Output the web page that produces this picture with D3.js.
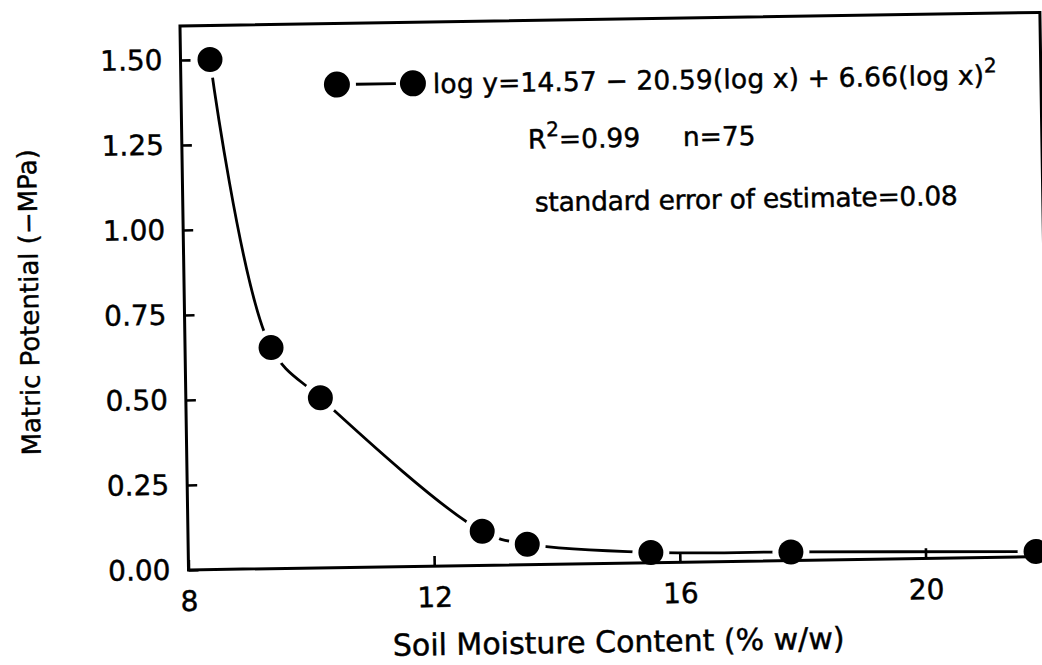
<!DOCTYPE html>
<html>
<head>
<meta charset="utf-8">
<script src="https://cdn.jsdelivr.net/npm/d3@7"></script>
<style>
  html, body { margin: 0; padding: 0; background: #fff; }
  svg { display: block; }
  text { font-family: "DejaVu Sans", sans-serif; fill: #000; stroke: #000; stroke-width: 0.45px; }
</style>
</head>
<body>
<svg id="chart" width="1042" height="665"></svg>
<script>
// ---- data ----
const moisture = [8.48, 9.40, 10.19, 12.79, 13.52, 15.53, 17.81, 21.8];
const potential = [1.50, 0.65, 0.50, 0.10, 0.06, 0.03, 0.025, 0.015];
const xTicks = [8, 12, 16, 20];
const yTicks = [0, 0.25, 0.5, 0.75, 1.0, 1.25, 1.5];
const xTitle = "Soil Moisture Content (% w/w)";
const yTitle = "Matric Potential (\u2212MPa)";
const eqMain = "log y=14.57 \u2212 20.59(log x) + 6.66(log x)";
const eqSup = "2";
const statR = "R";
const statR2 = "=0.99";
const statN = "n=75";
const statSE = "standard error of estimate=0.08";

const svg = d3.select("#chart");
svg.append("rect").attr("width", 1042).attr("height", 665).attr("fill", "#fff");

// scanned figure is slightly tilted
const g = svg.append("g").attr("transform", "rotate(-0.9,180,27)");

const x = d3.scaleLinear().domain([8, 22]).range([180, 1040]);
const y = d3.scaleLinear().domain([0, 1.6]).range([570, 26]);

const pts = moisture.map((m, i) => ({ x: m, y: potential[i] }));

// mask to leave small gaps where the line meets the markers
const defs = svg.append("defs");
const mask = defs.append("mask").attr("id", "gapmask").attr("maskUnits", "userSpaceOnUse")
  .attr("x", -50).attr("y", -50).attr("width", 1200).attr("height", 800);
mask.append("rect").attr("x", -50).attr("y", -50).attr("width", 1200).attr("height", 800).attr("fill", "#fff");
mask.selectAll("circle").data(pts).enter().append("circle")
  .attr("cx", d => x(d.x)).attr("cy", d => y(d.y)).attr("r", 18.5).attr("fill", "#000");

// frame
g.append("rect")
  .attr("x", x(8)).attr("y", y(1.6))
  .attr("width", x(22) - x(8)).attr("height", y(0) - y(1.6))
  .attr("fill", "none").attr("stroke", "#000").attr("stroke-width", 3);

// axes
const yAxis = d3.axisLeft(y).tickValues(yTicks).tickFormat(d3.format(".2f"))
  .tickSize(-10).tickPadding(18);
const xAxis = d3.axisBottom(x).tickValues(xTicks).tickFormat(d3.format("d"))
  .tickSize(-10).tickPadding(21);

const ya = g.append("g").attr("transform", `translate(${x(8)},0)`).call(yAxis);
const xa = g.append("g").attr("transform", `translate(0,${y(0)})`).call(xAxis);
[ya, xa].forEach(a => {
  a.select(".domain").remove();
  a.selectAll(".tick line").attr("stroke", "#000").attr("stroke-width", 2.6);
  a.selectAll(".tick text").attr("font-family", "DejaVu Sans").attr("font-size", 28).attr("fill", "#000");
});

// data curve
const line = d3.line().x(d => x(d.x)).y(d => y(d.y)).curve(d3.curveCatmullRom.alpha(0.5));
g.append("path").datum(pts)
  .attr("d", line)
  .attr("fill", "none").attr("stroke", "#000").attr("stroke-width", 2.8)
  .attr("mask", "url(#gapmask)");

// markers
g.selectAll("circle.pt").data(pts).enter().append("circle")
  .attr("class", "pt")
  .attr("cx", d => x(d.x)).attr("cy", d => y(d.y)).attr("r", 12.5)
  .attr("fill", "#000");

// legend
const lg = g.append("g");
lg.append("circle").attr("cx", 336).attr("cy", 87).attr("r", 13).attr("fill", "#000");
lg.append("line").attr("x1", 355).attr("x2", 395).attr("y1", 87).attr("y2", 87)
  .attr("stroke", "#000").attr("stroke-width", 2.8);
lg.append("circle").attr("cx", 412).attr("cy", 87).attr("r", 13).attr("fill", "#000");

const t1 = g.append("text").attr("x", 432).attr("y", 97).attr("font-size", 26.5)
  .attr("textLength", 564);
t1.append("tspan").text(eqMain);
t1.append("tspan").attr("dy", -12).attr("font-size", 20).text(eqSup);

const t2 = g.append("text").attr("x", 526).attr("y", 154).attr("font-size", 26.5);
t2.append("tspan").text(statR);
t2.append("tspan").attr("dy", -12).attr("font-size", 20).text("2");
t2.append("tspan").attr("dy", 12).text(statR2);
g.append("text").attr("x", 681).attr("y", 154).attr("font-size", 26.5).text(statN);

g.append("text").attr("x", 532).attr("y", 217).attr("font-size", 26.5)
  .attr("textLength", 423).text(statSE);

// axis titles
g.append("text").attr("x", 609).attr("y", 659).attr("text-anchor", "middle")
  .attr("font-size", 30).text(xTitle);
g.append("text").attr("transform", "translate(34,300) rotate(-90)")
  .attr("text-anchor", "middle").attr("font-size", 26).text(yTitle);
</script>
</body>
</html>
